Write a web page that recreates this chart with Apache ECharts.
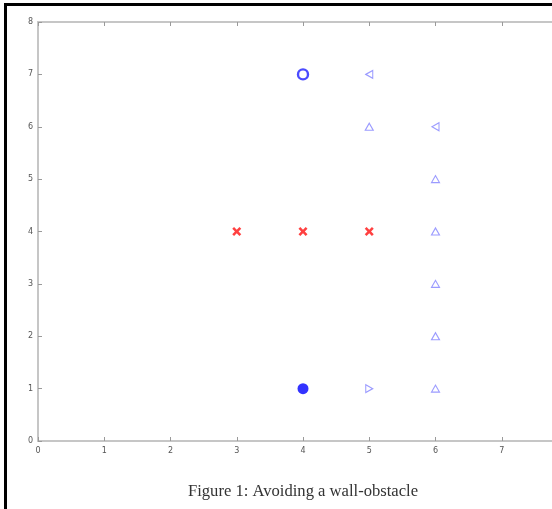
<!DOCTYPE html>
<html>
<head>
<meta charset="utf-8">
<script src="https://cdn.jsdelivr.net/npm/echarts@6/dist/echarts.min.js"></script>
<style>
  html, body { margin: 0; padding: 0; background: #fff; }
  #chart { width: 552px; height: 509px; }
</style>
</head>
<body>
<div id="chart"></div>
<script>
// Grid world: start, goal, wall cells and the path taken around the wall
const xTicks = [0, 1, 2, 3, 4, 5, 6, 7, 8];
const yTicks = [0, 1, 2, 3, 4, 5, 6, 7, 8];

const goal = [[4, 7]];
const start = [[4, 1]];
const wall = [[3, 4], [4, 4], [5, 4]];
const pathUp = [[5, 6], [6, 5], [6, 4], [6, 3], [6, 2], [6, 1]];
const pathLeft = [[5, 7], [6, 6]];
const pathRight = [[5, 1]];

const caption = 'Figure 1: Avoiding a wall-obstacle';

const crossPath = 'path://M0,2L2,0L5,3L8,0L10,2L7,5L10,8L8,10L5,7L2,10L0,8L3,5Z';
const axisGray = '#c6c6c6';
const labelGray = '#555555';

const chart = echarts.init(document.getElementById('chart'), null, { renderer: 'canvas' });

function triSeries(data, rotate) {
  return {
    type: 'scatter',
    data: data,
    symbol: 'triangle',
    symbolSize: [8, 7],
    symbolRotate: rotate,
    itemStyle: { color: 'rgba(255,255,255,0)', borderColor: '#8282ff', borderWidth: 1.1 },
    z: 3
  };
}

const axisCommon = {
  type: 'value',
  min: 0,
  max: 8,
  interval: 1,
  axisLine: { show: true, lineStyle: { color: axisGray, width: 2 } },
  axisTick: { show: true, inside: true, length: 4, lineStyle: { color: '#9a9a9a', width: 1 } },
  splitLine: { show: false },
  axisLabel: { color: labelGray, fontSize: 8, fontFamily: 'DejaVu Sans' }
};

chart.setOption({
  animation: false,
  backgroundColor: '#fff',
  grid: { left: 38, top: 22, width: 530, height: 419, containLabel: false, outerBoundsMode: 'none' },
  xAxis: [
    Object.assign({}, axisCommon, { position: 'bottom', axisLabel: Object.assign({}, axisCommon.axisLabel, { margin: 6, formatter: v => xTicks.includes(v) ? String(v) : '' }) }),
    Object.assign({}, axisCommon, { position: 'top', axisLabel: { show: false } })
  ],
  yAxis: [
    Object.assign({}, axisCommon, { position: 'left', axisLabel: Object.assign({}, axisCommon.axisLabel, { margin: 5, formatter: v => yTicks.includes(v) ? String(v) : '' }) })
  ],
  graphic: [
    { type: 'rect', shape: { x: 4, y: 3, width: 3, height: 506 }, style: { fill: '#000' } },
    { type: 'rect', shape: { x: 4, y: 3, width: 548, height: 3 }, style: { fill: '#000' } },
    {
      type: 'text', x: 303, y: 492,
      style: { text: caption, font: '16.6px "Liberation Serif", "DejaVu Serif", serif', fill: '#333', textAlign: 'center', textVerticalAlign: 'middle' }
    }
  ],
  series: [
    {
      type: 'scatter', data: wall, symbol: crossPath, symbolSize: 9,
      itemStyle: { color: '#ff1010' }, z: 3
    },
    {
      type: 'scatter', data: goal, symbol: 'circle', symbolSize: 10,
      itemStyle: { color: 'rgba(255,255,255,0)', borderColor: '#1e1eff', borderWidth: 2.4 }, z: 4
    },
    {
      type: 'scatter', data: start, symbol: 'circle', symbolSize: 11,
      itemStyle: { color: '#0000ff' }, z: 4
    },
    triSeries(pathUp, 0),
    triSeries(pathLeft, 90),
    triSeries(pathRight, -90)
  ]
});
</script>
</body>
</html>
